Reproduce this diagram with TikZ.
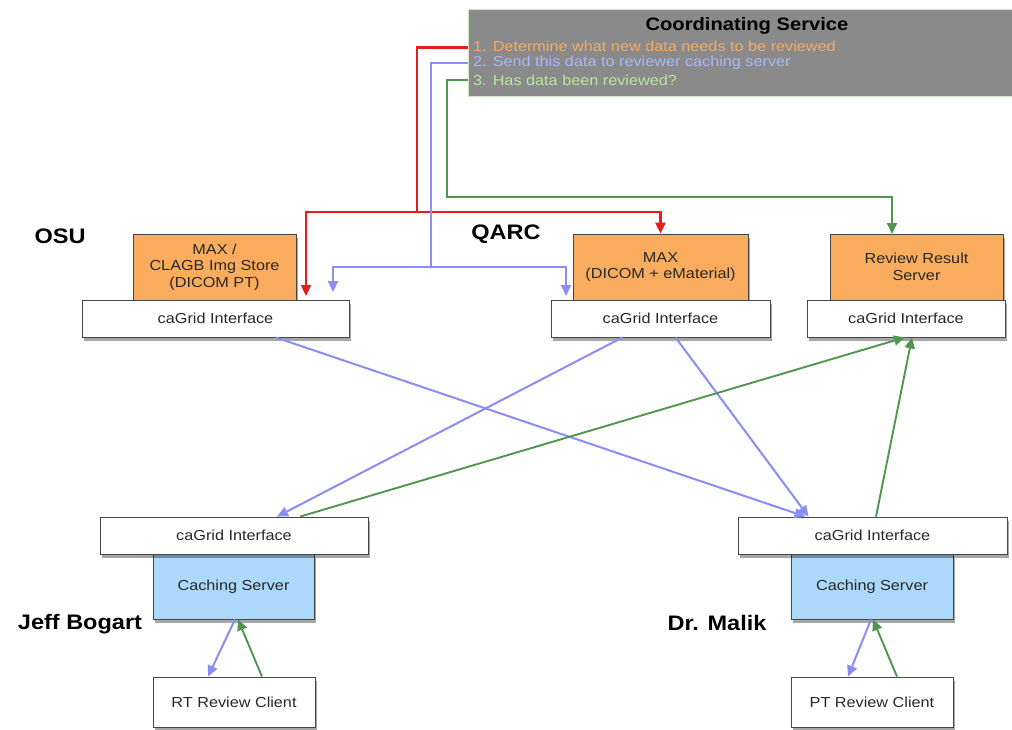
\documentclass[tikz,border=0pt]{standalone}
\usepackage{fontspec}
\setmainfont[FakeStretch=1.12]{Liberation Sans}
\usetikzlibrary{arrows.meta}
\definecolor{boxorange}{RGB}{249,172,94}
\definecolor{boxblue}{RGB}{172,216,250}
\definecolor{lnblue}{RGB}{140,140,245}
\definecolor{lngreen}{RGB}{80,150,80}
\definecolor{lnred}{RGB}{232,28,28}
\definecolor{csgray}{RGB}{138,138,138}
\definecolor{csedge}{RGB}{205,232,195}
\definecolor{txorange}{RGB}{246,170,100}
\definecolor{txblue}{RGB}{170,185,245}
\definecolor{txgreen}{RGB}{185,232,160}
\definecolor{edge}{RGB}{70,70,70}
\definecolor{boxtext}{RGB}{40,40,40}
\begin{document}
\begin{tikzpicture}[x=1pt,y=-1pt,
  basebox/.style={draw=edge,line width=0.8pt,inner sep=0pt,align=center,
    text=boxtext,font=\fontsize{14.5}{16.5}\selectfont,
    preaction={fill=black,opacity=0.35,transform canvas={xshift=2pt,yshift=-3.5pt}}},
  maxbox/.style={basebox,fill=boxorange},
  gridbox/.style={basebox,fill=white,minimum height=37pt},
  cachebox/.style={basebox,fill=boxblue},
  clientbox/.style={basebox,fill=white},
  site/.style={font=\fontsize{21}{24}\selectfont\bfseries},
  tip/.style={-{Triangle[length=11pt,width=10pt]}},
  redln/.style={draw=lnred,line width=2.3pt},
  blueln/.style={draw=lnblue,line width=2pt},
  greenln/.style={draw=lngreen,line width=1.9pt},
  csline/.style={anchor=west,inner sep=0pt,font=\fontsize{14.5}{16}\selectfont}]
\useasboundingbox[fill=white] (0,0) rectangle (1012,729);

% Coordinating service
\node[draw=csedge,line width=0.8pt,fill=csgray,minimum width=544pt,minimum height=87pt,inner sep=0pt] (cs) at (740,52.5) {};
\node[font=\fontsize{18}{20}\selectfont\bfseries] (cstitle) at (747,26) {Coordinating Service};
\node[csline,text=txorange] (l1) at (473,46.5) {1. Determine what new data needs to be reviewed};
\node[csline,text=txblue] (l2) at (473,62.5) {2. Send this data to reviewer caching server};
\node[csline,text=txgreen] (l3) at (473,80) {3. Has data been reviewed?};

% Site labels
\node[site] (osu) at (60,236) {OSU};
\node[site] (qarc) at (506,234) {QARC};
\node[site] (jeff) at (80,624) {Jeff Bogart};
\node[site] (malik) at (717,623) {Dr. Malik};

% Top servers
\node[maxbox,minimum width=163pt,minimum height=66pt] (osuMax) at (214.5,267) {MAX /\\CLAGB Img Store\\(DICOM PT)};
\node[gridbox,minimum width=267pt] (osuGrid) at (215.5,318.5) {caGrid Interface};
\node[maxbox,minimum width=175pt,minimum height=66pt] (qMax) at (660.5,267) {MAX\\(DICOM + eMaterial)};
\node[gridbox,minimum width=219pt] (qGrid) at (660.5,318.5) {caGrid Interface};
\node[maxbox,minimum width=173pt,minimum height=66pt] (rMax) at (916.5,267) {Review Result\\Server};
\node[gridbox,minimum width=198pt] (rGrid) at (906,318.5) {caGrid Interface};

% Bottom left
\node[cachebox,minimum width=161pt,minimum height=65pt] (lCache) at (233.5,586.5) {Caching Server};
\node[gridbox,minimum width=268pt] (lGrid) at (234,535.5) {caGrid Interface};
\node[clientbox,minimum width=162pt,minimum height=50pt] (rtClient) at (234,702) {RT Review Client};

% Bottom right
\node[cachebox,minimum width=162pt,minimum height=65pt] (brCache) at (872,586.5) {Caching Server};
\node[gridbox,minimum width=269pt] (brGrid) at (872.5,535.5) {caGrid Interface};
\node[clientbox,minimum width=162pt,minimum height=50pt] (ptClient) at (872,702) {PT Review Client};

% Routing coordinates
\coordinate (r1) at (417,212);
\coordinate (rOsu) at (306,296);
\coordinate (b1) at (431,267);
\coordinate (bOsu) at (333,292);
\coordinate (bQ) at (566,296);
\coordinate (g1) at (447,197);
\coordinate (gEnd) at (892,234);

% Coordinating connectors
\draw[redln] (cs.west |- 0,47.5) -| (r1);
\draw[redln,tip] (r1) -| (rOsu);
\draw[redln,tip] (r1) -| (qMax.north);
\draw[blueln] (cs.west |- 0,62.5) -| (b1);
\draw[blueln,tip] (b1) -| (bOsu);
\draw[blueln,tip] (b1) -| (bQ);
\draw[greenln,tip] (cs.west |- 0,80) -| (g1) -| (gEnd);

% Cross connectors
\draw[blueln,tip] ([xshift=60pt]osuGrid.south) -- ([xshift=-67pt]brGrid.north);
\draw[blueln,tip] ([xshift=-38pt]qGrid.south) -- ([xshift=43pt]lGrid.north);
\draw[blueln,tip] ([xshift=15pt]qGrid.south) -- ([xshift=-64pt]brGrid.north);
\draw[greenln,tip] ([xshift=66pt]lGrid.north) -- ([xshift=-1pt]rGrid.south);
\draw[greenln,tip] ([xshift=3.5pt]brGrid.north) -- ([xshift=6pt]rGrid.south);

% Client connectors
\draw[blueln,tip] ([xshift=1.5pt]lCache.south) -- ([xshift=-26pt]rtClient.north);
\draw[greenln,tip] ([xshift=28pt]rtClient.north) -- ([xshift=4.5pt]lCache.south);
\draw[blueln,tip] ([xshift=-1pt]brCache.south) -- ([xshift=-24pt]ptClient.north);
\draw[greenln,tip] ([xshift=25pt]ptClient.north) -- ([xshift=1pt]brCache.south);
\end{tikzpicture}
\end{document}
